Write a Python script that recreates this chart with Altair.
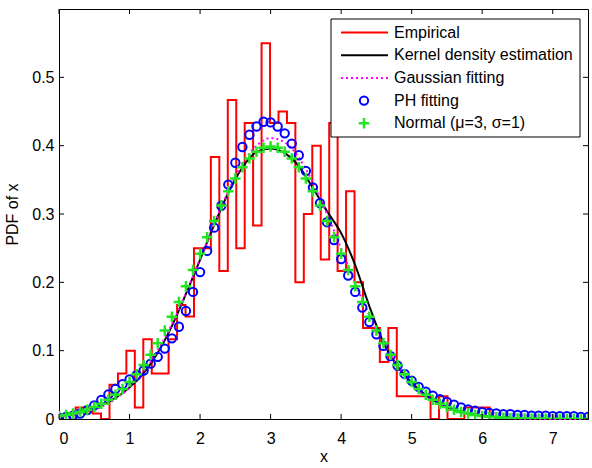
import altair as alt
import pandas as pd

# ---------------- data ----------------
hist_edges = [0.237, 0.356, 0.476, 0.596, 0.716, 0.836, 0.955, 1.075, 1.195, 1.315,
              1.435, 1.554, 1.674, 1.794, 1.914, 2.034, 2.153, 2.273, 2.393, 2.513,
              2.633, 2.752, 2.872, 2.992, 3.112, 3.232, 3.351, 3.471, 3.591, 3.711,
              3.831, 3.950, 4.070, 4.190, 4.310, 4.430, 4.549, 4.669, 4.789, 4.909,
              5.029, 5.148, 5.268, 5.388, 5.508, 5.628, 5.747, 5.867, 5.987, 6.107]
hist_heights = [0.0167, 0.0167, 0.008, 0.0, 0.05, 0.0667, 0.1, 0.0167, 0.1167, 0.0667,
                0.0667, 0.1167, 0.1667, 0.15, 0.25, 0.25, 0.3833, 0.2167, 0.4667, 0.25,
                0.4333, 0.2833, 0.55, 0.4333, 0.45, 0.4333, 0.2, 0.3, 0.4, 0.2333,
                0.4333, 0.2167, 0.3333, 0.2, 0.1333, 0.1333, 0.0833, 0.1333, 0.0333, 0.0333,
                0.0333, 0.0333, 0.0, 0.0333, 0.0, 0.0, 0.0167, 0.0167, 0.0167]

line_x = [0.0, 0.2, 0.4, 0.6, 0.8, 1.0, 1.2, 1.4, 1.6, 1.8, 2.0, 2.2, 2.4, 2.6, 2.8,
          3.0, 3.2, 3.4, 3.6, 3.8, 4.0, 4.2, 4.4, 4.6, 4.8, 5.0, 5.2, 5.4, 5.6, 5.8,
          6.0, 6.2, 6.4, 6.6, 6.8, 7.0, 7.2, 7.4, 7.5]
kde_y = [0.004, 0.007, 0.012, 0.020, 0.031, 0.046, 0.067, 0.097, 0.136, 0.183,
         0.233, 0.284, 0.331, 0.368, 0.391, 0.396, 0.389, 0.370, 0.338, 0.304,
         0.272, 0.225, 0.165, 0.112, 0.077, 0.053, 0.035, 0.022, 0.013, 0.008,
         0.005, 0.003, 0.002, 0.001, 0.0005, 0.0, 0.0, 0.0, 0.0]
gauss_y = [0.0031, 0.0058, 0.0104, 0.0178, 0.0293, 0.0460, 0.0694, 0.1002, 0.1387, 0.1841,
           0.2340, 0.2852, 0.3331, 0.3728, 0.3999, 0.4111, 0.4050, 0.3824, 0.3461, 0.3001,
           0.2495, 0.1987, 0.1517, 0.1110, 0.0778, 0.0523, 0.0337, 0.0208, 0.0123, 0.0070,
           0.0038, 0.0020, 0.0010, 0.0005, 0.0002, 0.0001, 0.0, 0.0, 0.0]

marker_x = [0.0, 0.1, 0.2, 0.3, 0.4, 0.5, 0.6, 0.7, 0.8, 0.9,
            1.0, 1.1, 1.2, 1.3, 1.4, 1.5, 1.6, 1.7, 1.8, 1.9,
            2.0, 2.1, 2.2, 2.3, 2.4, 2.5, 2.6, 2.7, 2.8, 2.9,
            3.0, 3.1, 3.2, 3.3, 3.4, 3.5, 3.6, 3.7, 3.8, 3.9,
            4.0, 4.1, 4.2, 4.3, 4.4, 4.5, 4.6, 4.7, 4.8, 4.9,
            5.0, 5.1, 5.2, 5.3, 5.4, 5.5, 5.6, 5.7, 5.8, 5.9,
            6.0, 6.1, 6.2, 6.3, 6.4, 6.5, 6.6, 6.7, 6.8, 6.9,
            7.0, 7.1, 7.2, 7.3, 7.4, 7.5]
ph_y = [0.002, 0.003, 0.005, 0.008, 0.013, 0.020, 0.028, 0.036, 0.044, 0.051,
        0.058, 0.064, 0.071, 0.081, 0.091, 0.103, 0.118, 0.135, 0.158, 0.186,
        0.215, 0.246, 0.280, 0.312, 0.343, 0.375, 0.398, 0.416, 0.428, 0.435,
        0.434, 0.428, 0.418, 0.403, 0.386, 0.363, 0.339, 0.316, 0.288, 0.262,
        0.234, 0.210, 0.186, 0.163, 0.142, 0.124, 0.107, 0.092, 0.078, 0.066,
        0.056, 0.047, 0.040, 0.034, 0.029, 0.025, 0.021, 0.017, 0.014, 0.012,
        0.010, 0.009, 0.008, 0.007, 0.007, 0.006, 0.006, 0.005, 0.005, 0.005,
        0.004, 0.004, 0.004, 0.004, 0.003, 0.003]
normal_y = [0.0044, 0.0060, 0.0079, 0.0104, 0.0136, 0.0175, 0.0224, 0.0283, 0.0355, 0.0440,
            0.0540, 0.0656, 0.0790, 0.0940, 0.1109, 0.1295, 0.1497, 0.1714, 0.1942, 0.2179,
            0.2420, 0.2661, 0.2897, 0.3123, 0.3332, 0.3521, 0.3683, 0.3814, 0.3910, 0.3970,
            0.3989, 0.3970, 0.3910, 0.3814, 0.3683, 0.3521, 0.3332, 0.3123, 0.2897, 0.2661,
            0.2420, 0.2179, 0.1942, 0.1714, 0.1497, 0.1295, 0.1109, 0.0940, 0.0790, 0.0656,
            0.0540, 0.0440, 0.0355, 0.0283, 0.0224, 0.0175, 0.0136, 0.0104, 0.0079, 0.0060,
            0.0044, 0.0033, 0.0024, 0.0017, 0.0012, 0.0009, 0.0006, 0.0004, 0.0003, 0.0002,
            0.0001, 0.0001, 0.0001, 0.0, 0.0, 0.0]

x_ticks = [0, 1, 2, 3, 4, 5, 6, 7]
y_ticks = [0, 0.1, 0.2, 0.3, 0.4, 0.5]
x_domain = [0, 7.5]
y_domain = [0, 0.6]

legend_names = ["Empirical", "Kernel density estimation", "Gaussian fitting",
                "PH fitting", "Normal (\u03bc=3, \u03c3=1)"]

# ---------------- styling ----------------
W, H = 529, 410
FONT = "Liberation Sans"
FS = 16
RED, BLACK, MAGENTA, BLUE, GREEN = "#ff0000", "#000000", "#ff00ff", "#0000ff", "#22e622"
PLUS = "M-1,0L1,0M0,-1L0,1"
CIRCLE_SIZE, PLUS_SIZE = 70, 110

xs = alt.Scale(domain=x_domain, nice=False, zero=False)
ys = alt.Scale(domain=y_domain, nice=False, zero=False)

x_axis = alt.Axis(values=x_ticks, title="x", grid=False, ticks=False, domain=False,
                  labelFont=FONT, labelFontSize=FS, labelColor="black", labelPadding=11,
                  titleFont=FONT, titleFontSize=FS, titleFontWeight="normal",
                  titleColor="black", titleY=42, titleBaseline="alphabetic")
y_axis = alt.Axis(values=y_ticks, title="PDF of x", grid=False, ticks=False, domain=False,
                  format="~g", labelFont=FONT, labelFontSize=FS, labelColor="black",
                  labelPadding=5, titleFont=FONT, titleFontSize=FS,
                  titleFontWeight="normal", titleColor="black", titleAngle=270,
                  titleX=-42, titleY=205, titleBaseline="alphabetic", titleAlign="center")


def X(field):
    return alt.X(field, type="quantitative", scale=xs, axis=x_axis)


def Y(field):
    return alt.Y(field, type="quantitative", scale=ys, axis=y_axis)


# stairs: start at 0, one point per bin, drop back to 0 at last edge
stairs = pd.DataFrame({
    "x": [hist_edges[0]] + hist_edges,
    "y": [0.0] + hist_heights + [0.0],
})
curves = pd.DataFrame({"x": line_x, "kde": kde_y, "gauss": gauss_y})
markers = pd.DataFrame({"x": marker_x, "ph": ph_y, "normal": normal_y})

hist = alt.Chart(stairs).mark_line(interpolate="step-after", color=RED,
                                   strokeWidth=2, clip=True).encode(x=X("x"), y=Y("y"))
kde = alt.Chart(curves).mark_line(color=BLACK, strokeWidth=2,
                                  interpolate="monotone").encode(x=X("x"), y=Y("kde"))
gauss = alt.Chart(curves).mark_line(color=MAGENTA, strokeWidth=2, strokeDash=[2, 3],
                                    interpolate="monotone").encode(x=X("x"), y=Y("gauss"))
ph = alt.Chart(markers).mark_point(shape="circle", filled=False, color=BLUE,
                                   strokeWidth=2, size=CIRCLE_SIZE, opacity=1,
                                   clip=True).encode(x=X("x"), y=Y("ph"))
normal = alt.Chart(markers).mark_point(shape=PLUS, filled=False, color=GREEN,
                                       strokeWidth=2.5, size=PLUS_SIZE, opacity=1,
                                       clip=True).encode(x=X("x"), y=Y("normal"))

# inward tick marks on all four sides
xt = pd.DataFrame({"v": x_ticks})
yt = pd.DataFrame({"v": y_ticks})
TL = 5
ticks = [
    alt.Chart(xt).mark_rule(color="black", strokeWidth=1).encode(
        x=X("v"), y=alt.value(H), y2=alt.value(H - TL)),
    alt.Chart(xt).mark_rule(color="black", strokeWidth=1).encode(
        x=X("v"), y=alt.value(0), y2=alt.value(TL)),
    alt.Chart(yt).mark_rule(color="black", strokeWidth=1).encode(
        y=Y("v"), x=alt.value(0), x2=alt.value(TL)),
    alt.Chart(yt).mark_rule(color="black", strokeWidth=1).encode(
        y=Y("v"), x=alt.value(W), x2=alt.value(W - TL)),
]

# legend box (pixel layout)
one = pd.DataFrame({"a": [0]})
LX0, LX1, LY0, LY1 = 272, 521, 10, 128
ROW0, ROWH = 23.5, 22.7
SX0, SX1, SXM, TX = 282, 329, 305, 335
legend_layers = [
    alt.Chart(one).mark_rect(fill="white", stroke="black", strokeWidth=1).encode(
        x=alt.value(LX0), x2=alt.value(LX1), y=alt.value(LY0), y2=alt.value(LY1))
]
styles = [("line", RED, None), ("line", BLACK, None), ("line", MAGENTA, [2, 3]),
          ("circle", BLUE, None), ("plus", GREEN, None)]
for i, (name, (kind, col, dash)) in enumerate(zip(legend_names, styles)):
    ry = ROW0 + i * ROWH
    if kind == "line":
        kw = dict(color=col, strokeWidth=2)
        if dash:
            kw["strokeDash"] = dash
        legend_layers.append(alt.Chart(one).mark_rule(**kw).encode(
            x=alt.value(SX0), x2=alt.value(SX1), y=alt.value(ry)))
    elif kind == "circle":
        legend_layers.append(alt.Chart(one).mark_point(
            shape="circle", filled=False, color=col, strokeWidth=2, size=CIRCLE_SIZE,
            opacity=1).encode(x=alt.value(SXM), y=alt.value(ry)))
    else:
        legend_layers.append(alt.Chart(one).mark_point(
            shape=PLUS, filled=False, color=col, strokeWidth=2.5, size=PLUS_SIZE,
            opacity=1).encode(x=alt.value(SXM), y=alt.value(ry)))
    legend_layers.append(alt.Chart(one).mark_text(
        text=name, font=FONT, fontSize=FS, color="black", align="left",
        baseline="middle").encode(x=alt.value(TX), y=alt.value(ry)))

chart = alt.layer(hist, kde, gauss, ph, normal, *ticks, *legend_layers).properties(
    width=W, height=H,
    padding={"left": 59, "top": 9, "right": 4, "bottom": 49},
    autosize=alt.AutoSizeParams(type="none"),
    background="white",
).configure_view(stroke="black", strokeWidth=1)

chart.save("out.html", embed_options={"renderer": "svg", "actions": False})
